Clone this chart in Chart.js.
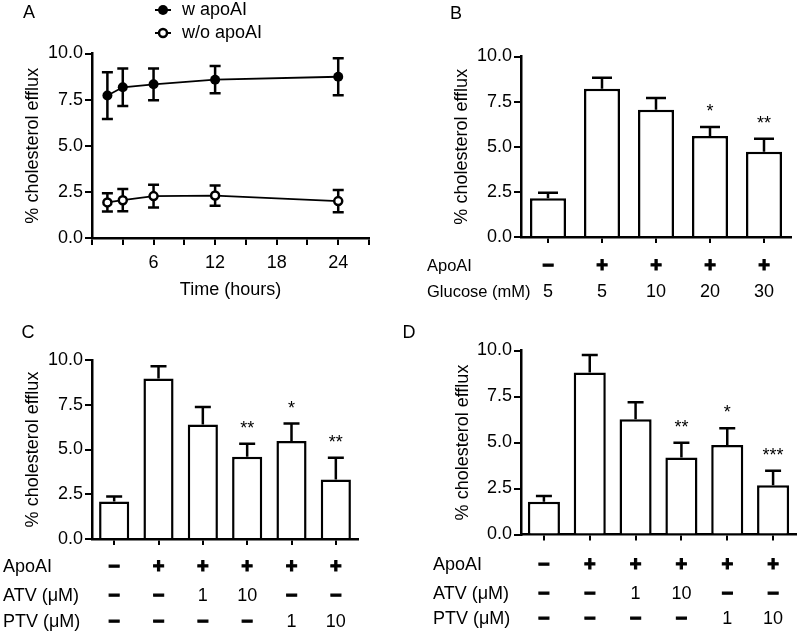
<!DOCTYPE html>
<html>
<head>
<meta charset="utf-8">
<script src="https://cdn.jsdelivr.net/npm/chart.js"></script>
<style>
  html, body { margin: 0; padding: 0; background: #fff; }
  #wrap { position: relative; width: 800px; height: 633px; }
  canvas { position: absolute; left: 0; top: 0; }
</style>
</head>
<body>
<div id="wrap">
  <canvas id="chartA" width="800" height="633"></canvas>
  <canvas id="chartB" width="800" height="633"></canvas>
  <canvas id="chartC" width="800" height="633"></canvas>
  <canvas id="chartD" width="800" height="633"></canvas>
</div>
<script>
// panel A - time course
const timeHours = [1.5, 3, 6, 12, 24];
const withApoAI = [7.72, 8.17, 8.33, 8.58, 8.74];
const withApoAIErr = [1.27, 1.02, 0.86, 0.74, 1.0];
const withoutApoAI = [1.93, 2.05, 2.27, 2.3, 2.0];
const withoutApoAIErr = [0.5, 0.6, 0.62, 0.55, 0.6];
const timeTicks = [6, 12, 18, 24];

// panel B - glucose
const glucoseApoAI = ['−', '+', '+', '+', '+'];
const glucoseMM = ['5', '5', '10', '20', '30'];
const glucoseEfflux = [2.15, 8.22, 7.05, 5.6, 4.72];
const glucoseErr = [0.3, 0.6, 0.65, 0.5, 0.72];
const glucoseStars = ['', '', '', '*', '**'];

// panels C and D - statins
const statinApoAI = ['−', '+', '+', '+', '+', '+'];
const statinATV = ['−', '−', '1', '10', '−', '−'];
const statinPTV = ['−', '−', '−', '−', '1', '10'];
const effluxC = [2.1, 8.97, 6.4, 4.6, 5.47, 3.32];
const errC = [0.27, 0.68, 0.97, 0.72, 0.98, 1.22];
const starsC = ['', '', '', '**', '*', '**'];
const effluxD = [1.78, 8.8, 6.27, 4.18, 4.87, 2.68];
const errD = [0.31, 0.95, 0.92, 0.8, 0.9, 0.78];
const starsD = ['', '', '', '**', '*', '***'];

const yTicks = [0, 2.5, 5, 7.5, 10];

const fam = '"Liberation Sans", Arial, Helvetica, sans-serif';
Chart.defaults.font.family = fam;
Chart.defaults.font.size = 18;
Chart.defaults.color = '#000';

function yAxis(width) {
  return {
    min: 0, max: 10, z: 1,
    afterBuildTicks: s => { s.ticks = yTicks.map(v => ({ value: v })); },
    afterFit: s => { s.width = width; },
    ticks: { padding: 2, callback: v => v.toFixed(1) },
    grid: { drawOnChartArea: false, tickLength: 7, lineWidth: 2, color: '#000' },
    border: { color: '#000', width: 2.5 },
    title: { display: true, text: '% cholesterol efflux', padding: 0 }
  };
}

function letter(ctx, t, x, y) {
  ctx.font = '18px ' + fam;
  ctx.textAlign = 'center';
  ctx.textBaseline = 'middle';
  ctx.fillText(t, x, y);
}

// error bars, legend, letter for A
const lineExtras = {
  id: 'lineExtras',
  beforeDatasetsDraw(chart) {
    const ctx = chart.ctx, xs = chart.scales.x, ys = chart.scales.y;
    ctx.save();
    ctx.strokeStyle = '#000';
    ctx.lineWidth = 2.5;
    [[withApoAI, withApoAIErr], [withoutApoAI, withoutApoAIErr]].forEach(([vals, errs]) => {
      vals.forEach((v, i) => {
        const x = xs.getPixelForValue(timeHours[i]);
        const y1 = ys.getPixelForValue(v + errs[i]), y2 = ys.getPixelForValue(v - errs[i]);
        ctx.beginPath();
        ctx.moveTo(x, y1); ctx.lineTo(x, y2);
        ctx.moveTo(x - 5.5, y1); ctx.lineTo(x + 5.5, y1);
        ctx.moveTo(x - 5.5, y2); ctx.lineTo(x + 5.5, y2);
        ctx.stroke();
      });
    });
    ctx.restore();
  },
  afterDraw(chart) {
    const ctx = chart.ctx;
    ctx.save();
    ctx.fillStyle = '#000';
    letter(ctx, 'A', 29, 13);
    chart.data.datasets.forEach((ds, i) => {
      const y = 10 + i * 23;
      ctx.strokeStyle = '#000';
      ctx.lineWidth = 2;
      ctx.beginPath(); ctx.moveTo(155, y); ctx.lineTo(171, y); ctx.stroke();
      ctx.beginPath(); ctx.arc(163, y, i ? 4 : 5, 0, Math.PI * 2);
      ctx.fillStyle = ds.pointBackgroundColor; ctx.fill();
      if (i) { ctx.lineWidth = 2.5; ctx.stroke(); }
      ctx.fillStyle = '#000';
      ctx.font = '18px ' + fam;
      ctx.textAlign = 'left';
      ctx.textBaseline = 'middle';
      ctx.fillText(ds.label, 182, y);
    });
    ctx.restore();
  }
};

new Chart(document.getElementById('chartA'), {
  type: 'line',
  data: {
    datasets: [{
      label: 'w apoAI',
      data: timeHours.map((t, i) => ({ x: t, y: withApoAI[i] })),
      borderColor: '#000', borderWidth: 1.8,
      pointRadius: 5, pointBackgroundColor: '#000', pointBorderColor: '#000', pointBorderWidth: 0
    }, {
      label: 'w/o apoAI',
      data: timeHours.map((t, i) => ({ x: t, y: withoutApoAI[i] })),
      borderColor: '#000', borderWidth: 1.8,
      pointRadius: 4, pointBackgroundColor: '#fff', pointBorderColor: '#000', pointBorderWidth: 2.5
    }]
  },
  options: {
    responsive: false, animation: false,
    layout: { padding: { left: 22, top: 53.5, right: 431, bottom: 332 } },
    plugins: { legend: { display: false }, tooltip: { enabled: false } },
    scales: {
      x: {
        type: 'linear', min: 0, max: 27,
        afterBuildTicks: s => { s.ticks = [0, 3, 6, 9, 12, 15, 18, 21, 24, 27].map(v => ({ value: v })); },
        afterFit: s => { s.height = 63; },
        ticks: { autoSkip: false, maxRotation: 0, padding: 7, callback: v => timeTicks.includes(v) ? String(v) : '' },
        grid: { drawOnChartArea: false, tickLength: 7, lineWidth: 2, color: '#000' },
        border: { color: '#000', width: 2.5 },
        title: { display: true, text: 'Time (hours)', padding: 0 }
      },
      y: yAxis(70)
    }
  },
  plugins: [lineExtras]
});

function barExtras(o) {
  return {
    id: 'barExtras',
    afterDatasetsDraw(chart) {
      const ctx = chart.ctx, xs = chart.scales.x, ys = chart.scales.y;
      const meta = chart.getDatasetMeta(0);
      ctx.save();
      ctx.strokeStyle = '#000';
      ctx.fillStyle = '#000';
      ctx.lineWidth = 2.5;
      meta.data.forEach((bar, i) => {
        const v = o.values[i];
        const yTop = ys.getPixelForValue(v), yE = ys.getPixelForValue(v + o.errors[i]);
        ctx.beginPath();
        ctx.moveTo(bar.x, yTop); ctx.lineTo(bar.x, yE);
        ctx.moveTo(bar.x - o.cap / 2, yE); ctx.lineTo(bar.x + o.cap / 2, yE);
        ctx.stroke();
        if (o.stars[i]) {
          ctx.font = '18px ' + fam;
          ctx.textAlign = 'center';
          ctx.textBaseline = 'alphabetic';
          ctx.fillText(o.stars[i], bar.x, yE - 10);
        }
      });
      ctx.textBaseline = 'middle';
      ctx.lineWidth = 1.1;
      o.rows.forEach((row, r) => {
        const y = o.rowY[r];
        ctx.font = o.rowFont + 'px ' + fam;
        ctx.textAlign = 'left';
        ctx.fillText(row.label, o.rowX, y);
        ctx.textAlign = 'center';
        row.cells.forEach((t, i) => {
          const x = xs.getPixelForValue(i);
          if (t === '+' || t === '−') {
            ctx.font = 'bold 20px ' + fam;
            ctx.fillText(t, x, y);
            ctx.strokeText(t, x, y);
          } else {
            ctx.font = '18px ' + fam;
            ctx.fillText(t, x, y);
          }
        });
      });
      letter(ctx, o.letter[0], o.letter[1], o.letter[2]);
      ctx.restore();
    }
  };
}

function barChart(id, o) {
  return new Chart(document.getElementById(id), {
    type: 'bar',
    data: {
      labels: o.values.map((v, i) => o.rows.map(r => r.cells[i]).join(' ')),
      datasets: [{
        data: o.values,
        backgroundColor: '#fff', borderColor: '#000', borderWidth: 2.5,
        barPercentage: o.barPct, categoryPercentage: 1
      }]
    },
    options: {
      responsive: false, animation: false,
      layout: { padding: o.padding },
      plugins: { legend: { display: false }, tooltip: { enabled: false } },
      scales: {
        x: {
          offset: true, z: 1,
          afterFit: s => { s.height = 30; },
          ticks: { display: false },
          grid: { offset: false, drawOnChartArea: false, tickLength: 6, lineWidth: 2, color: '#000' },
          border: { color: '#000', width: 2.5 }
        },
        y: yAxis(o.yWidth)
      }
    },
    plugins: [barExtras(o)]
  });
}

barChart('chartB', {
  values: glucoseEfflux, errors: glucoseErr, stars: glucoseStars,
  rows: [{ label: 'ApoAI', cells: glucoseApoAI }, { label: 'Glucose (mM)', cells: glucoseMM }],
  rowY: [266, 292], rowX: 427, rowFont: 16.5, cap: 20, barPct: 0.667, yWidth: 70,
  letter: ['B', 456, 14],
  padding: { left: 451, top: 56.5, right: 9, bottom: 366 }
});

barChart('chartC', {
  values: effluxC, errors: errC, stars: starsC,
  rows: [{ label: 'ApoAI', cells: statinApoAI }, { label: 'ATV (μM)', cells: statinATV }, { label: 'PTV (μM)', cells: statinPTV }],
  rowY: [567, 596, 622], rowX: 3, rowFont: 18, cap: 16, barPct: 0.68, yWidth: 70,
  letter: ['C', 28, 333],
  padding: { left: 22, top: 360, right: 442, bottom: 64 }
});

barChart('chartD', {
  values: effluxD, errors: errD, stars: starsD,
  rows: [{ label: 'ApoAI', cells: statinApoAI }, { label: 'ATV (μM)', cells: statinATV }, { label: 'PTV (μM)', cells: statinPTV }],
  rowY: [565, 594, 619], rowX: 433, rowFont: 18, cap: 16, barPct: 0.7, yWidth: 69,
  letter: ['D', 409, 333],
  padding: { left: 452, top: 350.5, right: 4, bottom: 68.5 }
});
</script>
</body>
</html>
